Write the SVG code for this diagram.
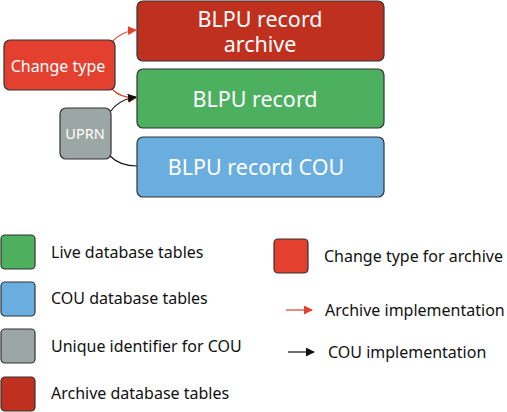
<svg xmlns="http://www.w3.org/2000/svg" width="507" height="412" viewBox="0 0 507 412">
<defs>
<style>
.box{stroke:#333;stroke-width:1.2}
.arch{fill:#c0301f}
.live{fill:#4cb05f}
.cou{fill:#6aaee0}
.chg{fill:#e3402f}
.uid{fill:#9ca6a4}
.wt{font-family:"Noto Sans","Open Sans",sans-serif;fill:#fff;text-anchor:middle}
.lt{font-family:"Noto Sans","Open Sans",sans-serif;fill:#111;font-size:16px}
.red{fill:none;stroke:#e3402f;stroke-width:1.2}
.blk{fill:none;stroke:#111;stroke-width:1.2}
</style>
<marker id="ar" viewBox="0 0 10 10" refX="9" refY="5" markerWidth="9" markerHeight="9" markerUnits="userSpaceOnUse" orient="auto"><path d="M0,0 L10,5 L0,10 z" fill="#e3402f"/></marker>
<marker id="ab" viewBox="0 0 10 10" refX="9" refY="5" markerWidth="9" markerHeight="9" markerUnits="userSpaceOnUse" orient="auto"><path d="M0,0 L10,5 L0,10 z" fill="#111"/></marker>
</defs>
<g id="connectors">
<path class="red" d="M112,42 Q122,31 136,30" marker-end="url(#ar)"/>
<path class="red" d="M112,89 Q120,98 136,98" marker-end="url(#ar)"/>
<path class="blk" d="M110,112 Q118,100 136,97" marker-end="url(#ab)"/>
<path class="blk" d="M110,156 Q120,166 137,166"/>
</g>
<g id="archive"><rect class="box arch" x="137" y="1" width="247" height="60" rx="6"/><text class="wt" font-size="21.5" x="260" y="27">BLPU record</text><text class="wt" font-size="21.5" x="260" y="52">archive</text></g>
<g id="live"><rect class="box live" x="137" y="69" width="247" height="59" rx="6"/><text class="wt" font-size="21.5" x="255" y="107">BLPU record</text></g>
<g id="cou"><rect class="box cou" x="137" y="137" width="247" height="60" rx="6"/><text class="wt" font-size="21.5" x="256" y="175">BLPU record COU</text></g>
<g id="changetype"><rect class="box chg" x="4" y="40" width="111" height="50" rx="6"/><text class="wt" font-size="16" x="58" y="72">Change type</text></g>
<g id="uprn"><rect class="box uid" x="60" y="108" width="51" height="51" rx="6"/><text class="wt" font-size="14.5" x="85" y="139">UPRN</text></g>
<g id="legend">
<rect class="box live" x="1" y="235" width="34" height="34" rx="4"/><text class="lt" x="51" y="258">Live database tables</text>
<rect class="box cou" x="1" y="282" width="34" height="34" rx="4"/><text class="lt" x="51" y="304">COU database tables</text>
<rect class="box uid" x="1" y="329" width="34" height="34" rx="4"/><text class="lt" x="51" y="352">Unique identifier for COU</text>
<rect class="box arch" x="1" y="377" width="34" height="34" rx="4"/><text class="lt" x="51" y="399">Archive database tables</text>
<rect class="box chg" x="274" y="239" width="34" height="34" rx="4"/><text class="lt" x="324" y="262">Change type for archive</text>
<path class="red" d="M286,310 L312,310" marker-end="url(#ar)"/><text class="lt" x="325" y="316">Archive implementation</text>
<path class="blk" d="M288,352 L314,352" marker-end="url(#ab)"/><text class="lt" x="328" y="358">COU implementation</text>
</g>
</svg>
